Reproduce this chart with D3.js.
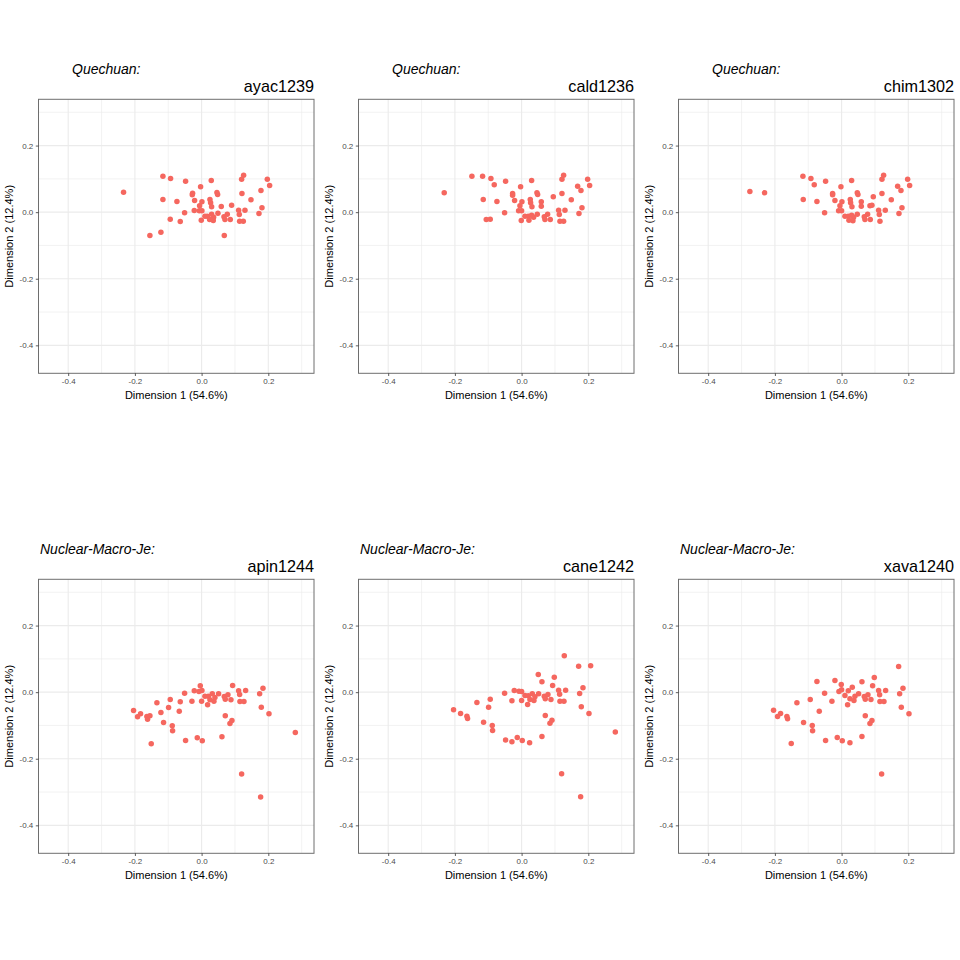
<!DOCTYPE html>
<html><head><meta charset="utf-8">
<script src="https://cdn.jsdelivr.net/npm/d3@7"></script>
<style>body{margin:0;background:#fff}svg{display:block}</style>
</head><body>
<script>
// ---- data ----
const families = ["Quechuan:", "Quechuan:", "Quechuan:", "Nuclear-Macro-Je:", "Nuclear-Macro-Je:", "Nuclear-Macro-Je:"];
const glottocodes = ["ayac1239", "cald1236", "chim1302", "apin1244", "cane1242", "xava1240"];
const xTicks = [-0.4, -0.2, 0.0, 0.2];
const yTicks = [0.2, 0.0, -0.2, -0.4];
const xLabel = "Dimension 1 (54.6%)";
const yLabel = "Dimension 2 (12.4%)";

const ayac1239 = [[-0.234,0.060],[-0.116,0.108],[-0.093,0.101],[-0.048,0.093],[-0.003,0.076],[0.029,0.095],[0.126,0.111],[0.120,0.099],[0.197,0.099],[0.204,0.080],[0.178,0.065],[0.121,0.056],[0.148,0.037],[0.181,0.013],[0.172,-0.004],[0.130,0.006],[0.111,0.006],[0.113,-0.007],[0.114,-0.027],[0.125,-0.027],[0.090,0.021],[0.059,0.017],[0.046,0.059],[0.048,0.053],[-0.027,0.057],[-0.028,0.052],[-0.021,0.035],[-0.116,0.038],[-0.074,0.032],[0.025,0.038],[0.027,0.028],[0.001,0.031],[-0.006,0.019],[0.030,0.016],[-0.022,0.005],[-0.007,0.004],[0.001,0.004],[-0.051,-0.002],[0.010,-0.012],[0.017,-0.012],[0.030,-0.006],[0.049,-0.003],[0.036,-0.015],[0.024,-0.022],[0.035,-0.025],[-0.001,-0.024],[0.067,-0.014],[0.077,-0.006],[0.070,-0.022],[0.086,-0.022],[-0.094,-0.021],[-0.064,-0.028],[-0.122,-0.060],[-0.155,-0.070],[0.068,-0.070]];
const cald1236 = [[-0.232,0.058],[-0.149,0.108],[-0.117,0.108],[-0.092,0.101],[-0.082,0.082],[-0.048,0.093],[-0.003,0.076],[0.030,0.095],[0.126,0.111],[0.121,0.099],[0.198,0.099],[0.204,0.080],[0.168,0.078],[0.178,0.065],[0.121,0.056],[0.095,0.046],[0.149,0.037],[0.181,0.013],[0.172,-0.004],[0.130,0.006],[0.111,0.006],[0.113,-0.007],[0.115,-0.027],[0.126,-0.027],[0.046,0.058],[0.048,0.053],[-0.027,0.056],[-0.027,0.051],[-0.021,0.035],[-0.115,0.038],[-0.074,0.032],[0.026,0.038],[0.027,0.028],[0.001,0.031],[-0.005,0.019],[0.059,0.031],[0.059,0.018],[0.031,0.016],[-0.009,0.004],[0.000,0.004],[-0.051,-0.002],[0.010,-0.012],[0.020,-0.012],[0.030,-0.009],[0.047,-0.006],[0.036,-0.015],[0.022,-0.024],[-0.001,-0.025],[0.068,-0.014],[0.078,-0.006],[0.070,-0.022],[0.086,-0.022],[-0.106,-0.022],[-0.094,-0.021]];
const chim1302 = [[-0.275,0.062],[-0.231,0.058],[-0.116,0.108],[-0.092,0.101],[-0.082,0.082],[-0.048,0.093],[-0.002,0.076],[0.030,0.095],[0.126,0.111],[0.121,0.099],[0.198,0.099],[0.204,0.080],[0.168,0.078],[0.178,0.065],[0.121,0.056],[0.095,0.046],[0.149,0.037],[0.181,0.013],[0.172,-0.004],[0.131,0.006],[0.111,0.006],[0.113,-0.007],[0.115,-0.027],[0.086,-0.022],[0.068,-0.014],[0.078,-0.006],[0.070,-0.022],[0.091,0.021],[0.085,0.019],[0.047,0.058],[0.049,0.053],[-0.027,0.056],[-0.027,0.052],[-0.020,0.035],[-0.115,0.038],[-0.074,0.032],[0.026,0.038],[0.027,0.028],[0.001,0.031],[-0.005,0.019],[0.059,0.031],[0.059,0.018],[0.031,0.016],[-0.009,0.004],[0.000,0.004],[-0.051,-0.002],[0.010,-0.012],[0.020,-0.012],[0.030,-0.009],[0.047,-0.006],[0.036,-0.015],[0.022,-0.024],[0.034,-0.026]];
const apin1244 = [[-0.204,-0.055],[-0.192,-0.074],[-0.183,-0.065],[-0.164,-0.073],[-0.162,-0.081],[-0.155,-0.071],[-0.151,-0.155],[-0.134,-0.032],[-0.122,-0.061],[-0.114,-0.091],[-0.099,-0.046],[-0.094,-0.022],[-0.088,-0.101],[-0.087,-0.116],[-0.067,-0.057],[-0.064,-0.029],[-0.051,-0.003],[-0.048,-0.145],[-0.029,-0.027],[-0.022,0.004],[-0.013,-0.137],[-0.008,0.002],[-0.004,0.019],[0.001,0.005],[0.000,-0.027],[0.002,-0.146],[0.010,-0.012],[0.018,-0.038],[0.020,-0.012],[0.025,-0.023],[0.032,-0.005],[0.037,-0.027],[0.040,-0.016],[0.051,-0.005],[0.061,-0.134],[0.068,-0.013],[0.071,-0.021],[0.071,-0.071],[0.079,-0.008],[0.085,-0.094],[0.088,-0.023],[0.091,-0.085],[0.093,0.020],[0.111,0.004],[0.114,-0.007],[0.115,-0.028],[0.120,-0.246],[0.127,-0.028],[0.132,0.005],[0.174,-0.005],[0.179,-0.045],[0.184,0.012],[0.177,-0.315],[0.202,-0.065],[0.281,-0.121]];
const cane1242 = [[-0.204,-0.053],[-0.183,-0.064],[-0.164,-0.072],[-0.162,-0.079],[-0.134,-0.031],[-0.114,-0.090],[-0.099,-0.045],[-0.094,-0.021],[-0.088,-0.100],[-0.087,-0.115],[-0.051,-0.003],[-0.048,-0.144],[-0.029,-0.026],[-0.029,-0.149],[-0.022,0.005],[-0.013,-0.136],[-0.008,0.003],[0.000,0.002],[0.000,-0.025],[0.002,-0.145],[0.010,-0.010],[0.018,-0.037],[0.020,-0.011],[0.024,-0.152],[0.025,-0.022],[0.032,-0.005],[0.037,-0.025],[0.040,-0.014],[0.050,0.053],[0.051,-0.005],[0.061,0.031],[0.061,-0.133],[0.068,-0.012],[0.071,-0.020],[0.071,-0.070],[0.079,-0.007],[0.085,-0.093],[0.088,-0.022],[0.091,-0.084],[0.093,0.020],[0.098,0.045],[0.111,0.006],[0.114,-0.006],[0.115,-0.027],[0.120,-0.245],[0.127,-0.027],[0.128,0.109],[0.132,0.006],[0.171,0.078],[0.174,-0.004],[0.179,-0.044],[0.184,0.013],[0.177,-0.314],[0.202,-0.064],[0.207,0.079],[0.281,-0.120]];
const xava1240 = [[-0.204,-0.054],[-0.192,-0.073],[-0.183,-0.064],[-0.164,-0.073],[-0.162,-0.080],[-0.151,-0.154],[-0.134,-0.032],[-0.114,-0.091],[-0.094,-0.022],[-0.088,-0.100],[-0.087,-0.116],[-0.074,0.032],[-0.067,-0.057],[-0.051,-0.003],[-0.048,-0.145],[-0.029,-0.027],[-0.020,0.035],[-0.013,-0.136],[-0.008,0.002],[-0.001,0.023],[0.000,0.007],[0.002,-0.146],[0.010,-0.010],[0.018,-0.038],[0.020,0.004],[0.025,-0.152],[0.025,-0.020],[0.032,0.015],[0.037,-0.025],[0.040,-0.012],[0.051,-0.005],[0.061,0.031],[0.061,-0.133],[0.068,-0.013],[0.071,-0.021],[0.071,-0.071],[0.079,-0.008],[0.085,-0.094],[0.088,-0.022],[0.091,-0.085],[0.093,0.019],[0.098,0.044],[0.111,0.005],[0.114,-0.008],[0.115,-0.028],[0.120,-0.246],[0.127,-0.028],[0.132,0.005],[0.171,0.077],[0.174,-0.005],[0.179,-0.045],[0.184,0.012],[0.202,-0.065]];
const panelData = [ayac1239, cald1236, chim1302, apin1244, cane1242, xava1240];

// ---- layout ----
const W = 960, H = 960;
const pw = 275.5, ph = 274;
const lefts = [38.5, 358.5, 678.5];
const tops = [99.3, 579.3];
const xDomain = [-0.489, 0.337];
const yDomain = [-0.484, 0.339];
const font = "'Liberation Sans', Arial, Helvetica, sans-serif";

const svg = d3.select("body").append("svg").attr("width", W).attr("height", H)
  .style("font-family", font);

const x = d3.scaleLinear().domain(xDomain).range([0, pw]);
const y = d3.scaleLinear().domain(yDomain).range([ph, 0]);
const xMinor = [-0.3, -0.1, 0.1, 0.3];
const yMinor = [0.3, 0.1, -0.1, -0.3];

panelData.forEach((pts, i) => {
  const col = i % 3, row = Math.floor(i / 3);
  const L = lefts[col], T = tops[row];
  const g = svg.append("g").attr("transform", `translate(${L},${T})`);

  g.append("rect").attr("width", pw).attr("height", ph).attr("fill", "#fff");

  g.selectAll(".vmin").data(xMinor).join("line")
    .attr("x1", d => x(d)).attr("x2", d => x(d)).attr("y1", 0).attr("y2", ph)
    .attr("stroke", "#ebebeb").attr("stroke-width", 0.6);
  g.selectAll(".hmin").data(yMinor).join("line")
    .attr("y1", d => y(d)).attr("y2", d => y(d)).attr("x1", 0).attr("x2", pw)
    .attr("stroke", "#ebebeb").attr("stroke-width", 0.6);
  g.selectAll(".vmaj").data(xTicks).join("line")
    .attr("x1", d => x(d)).attr("x2", d => x(d)).attr("y1", 0).attr("y2", ph)
    .attr("stroke", "#ebebeb").attr("stroke-width", 1.1);
  g.selectAll(".hmaj").data(yTicks).join("line")
    .attr("y1", d => y(d)).attr("y2", d => y(d)).attr("x1", 0).attr("x2", pw)
    .attr("stroke", "#ebebeb").attr("stroke-width", 1.1);

  g.selectAll("circle.pt").data(pts).join("circle")
    .attr("class", "pt")
    .attr("cx", d => x(d[0])).attr("cy", d => y(d[1])).attr("r", 2.75)
    .attr("fill", "#F5675F");

  g.append("rect").attr("width", pw).attr("height", ph)
    .attr("fill", "none").attr("stroke", "#6e6e6e").attr("stroke-width", 1);

  const xAxis = g.append("g").attr("transform", `translate(0,${ph})`)
    .call(d3.axisBottom(x).tickValues(xTicks).tickFormat(d3.format(".1f")).tickSize(2.7).tickPadding(2.5));
  const yAxis = g.append("g")
    .call(d3.axisLeft(y).tickValues(yTicks).tickFormat(d3.format(".1f")).tickSize(2.7).tickPadding(2.5));
  [xAxis, yAxis].forEach(a => {
    a.select(".domain").remove();
    a.selectAll(".tick line").attr("stroke", "#333").attr("stroke-width", 0.8);
    a.selectAll(".tick text").attr("fill", "#4d4d4d").style("font-size", "8px").style("font-family", font);
  });
  xAxis.selectAll(".tick text").text(d => d3.format(".1f")(d).replace("−", "-"));
  yAxis.selectAll(".tick text").text(d => d3.format(".1f")(d).replace("−", "-"));

  g.append("text").attr("x", pw / 2).attr("y", ph + 26).attr("text-anchor", "middle")
    .style("font-size", "11px").attr("fill", "#000").text(xLabel);
  g.append("text").attr("transform", `translate(${-25.5},${ph / 2}) rotate(-90)`)
    .attr("text-anchor", "middle").style("font-size", "11px").attr("fill", "#000").text(yLabel);

  const titleX = row === 0 ? 33.5 : 1.5;
  g.append("text").attr("x", titleX).attr("y", -25.5)
    .style("font-size", "14px").style("font-style", "italic").attr("fill", "#000").text(families[i]);
  g.append("text").attr("x", pw).attr("y", -7.5).attr("text-anchor", "end")
    .style("font-size", "16.2px").attr("fill", "#000").text(glottocodes[i]);
});
</script>
</body></html>
